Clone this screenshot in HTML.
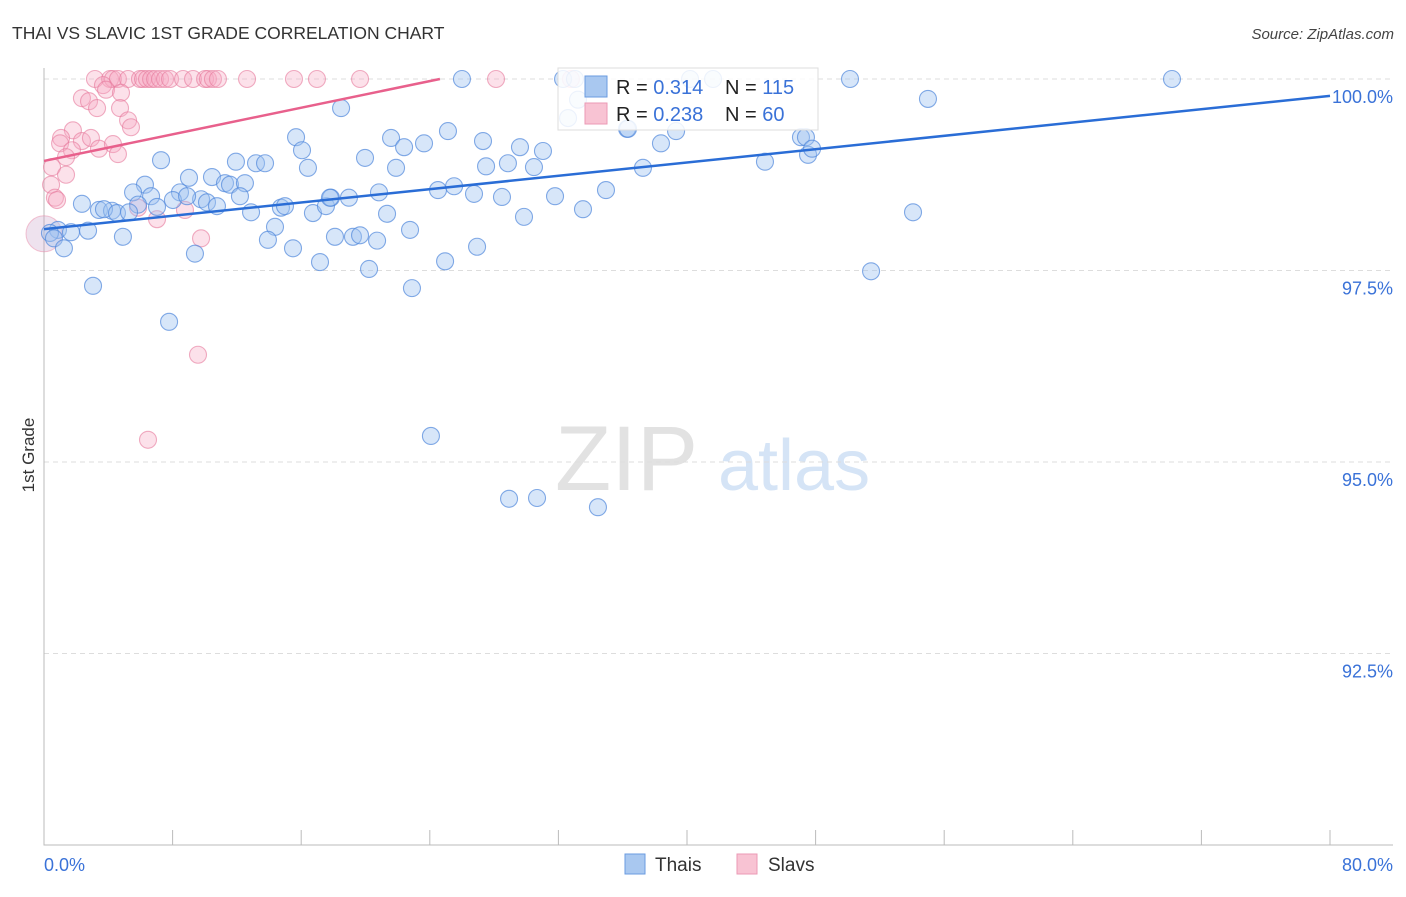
<!DOCTYPE html>
<html><head><meta charset="utf-8"><style>
body{margin:0;background:#fff;font-family:"Liberation Sans",sans-serif}
svg text{font-family:"Liberation Sans",sans-serif}
</style></head><body>
<svg id="chart" width="1406" height="892" viewBox="0 0 1406 892" xmlns="http://www.w3.org/2000/svg">
<text x="12" y="39" font-size="17.5" fill="#333">THAI VS SLAVIC 1ST GRADE CORRELATION CHART</text>
<text x="1394" y="39" font-size="15" fill="#444" text-anchor="end" font-style="italic">Source: ZipAtlas.com</text>
<text transform="translate(34,455) rotate(-90)" font-size="17" fill="#333" text-anchor="middle">1st Grade</text>
<g>
<text x="555" y="490" font-size="92" fill="#e2e2e2" font-family="Liberation Serif,serif">ZIP</text>
<text x="718" y="490" font-size="72" fill="#d5e4f6">atlas</text>
</g>
<g id="grid"></g>
<g id="axes"></g>
<g id="trends"></g>
<g id="points"></g>
<g>
<rect x="558" y="68" width="260" height="62" fill="#fff" fill-opacity="0.85" stroke="#ddd"/>
<rect x="585" y="76" width="22" height="21" fill="#a9c8f0" stroke="#6a9be0"/>
<rect x="585" y="103" width="22" height="21" fill="#f8c3d3" stroke="#eb9ab4"/>
<text x="616" y="94" font-size="20" fill="#222">R = <tspan fill="#3a72d8">0.314</tspan></text>
<text x="725" y="94" font-size="20" fill="#222">N = <tspan fill="#3a72d8">115</tspan></text>
<text x="616" y="121" font-size="20" fill="#222">R = <tspan fill="#3a72d8">0.238</tspan></text>
<text x="725" y="121" font-size="20" fill="#222">N = <tspan fill="#3a72d8">60</tspan></text>
</g>
<g>
<rect x="625" y="854" width="20" height="20" fill="#a9c8f0" stroke="#6a9be0"/>
<text x="655" y="871" font-size="19" fill="#333">Thais</text>
<rect x="737" y="854" width="20" height="20" fill="#f8c3d3" stroke="#eb9ab4"/>
<text x="768" y="871" font-size="19" fill="#333">Slavs</text>
</g>
</svg>
<script>
const yTicks=[100,97.5,95,92.5];
const yTickLabels=["100.0%","97.5%","95.0%","92.5%"];
const xTickLabels=["0.0%","80.0%"];
const thaiX=[26.0,32.29,33.03,40.19,41.62,50.14,70.17,54.99,18.48,33.22,32.6,25.13,36.27,39.32,21.59,15.68,27.31,23.64,22.4,16.05,29.61,31.04,47.09,47.4,7.28,19.97,11.94,13.19,13.75,16.42,21.9,27.5,28.86,30.48,38.38,44.85,47.53,47.78,37.26,9.02,10.45,11.26,11.57,12.5,6.28,5.54,6.66,8.46,8.02,9.77,10.14,12.19,10.76,8.9,5.85,2.36,7.03,3.42,4.23,3.73,4.54,5.29,12.88,14.74,14.99,16.73,17.54,17.85,18.97,20.84,24.51,25.51,26.75,28.49,31.79,34.96,21.34,29.86,33.53,54.06,0.87,1.68,2.74,0.37,0.62,1.24,4.91,14.37,13.93,18.1,19.22,19.66,20.72,22.77,15.49,9.39,17.17,20.22,24.95,26.94,51.45,22.89,3.05,7.78,24.07,28.93,30.67,34.46,36.33,17.79];
const thaiY=[100,100,100,100,100,100,100,99.74,99.62,99.73,99.49,99.32,99.35,99.32,99.23,99.24,99.19,99.16,99.11,99.07,99.11,99.06,99.24,99.24,98.94,98.97,98.92,98.90,98.90,98.84,98.84,98.86,98.90,98.85,99.16,98.92,99.01,99.09,98.84,98.71,98.72,98.64,98.62,98.64,98.62,98.52,98.47,98.52,98.42,98.43,98.39,98.47,98.34,98.47,98.36,98.37,98.33,98.29,98.28,98.30,98.25,98.26,98.26,98.32,98.34,98.25,98.34,98.45,98.45,98.52,98.55,98.60,98.50,98.46,98.47,98.55,98.24,98.20,98.30,98.26,98.03,98.0,98.02,97.99,97.92,97.79,97.94,98.07,97.90,97.94,97.94,97.96,97.89,98.03,97.79,97.72,97.61,97.52,97.62,97.81,97.49,97.27,97.30,96.83,95.34,94.52,94.53,94.41,99.35,98.45];
const slavX=[3.17,4.11,4.29,4.6,5.23,5.97,6.16,6.41,6.66,6.91,7.22,7.53,7.84,8.65,9.27,10.02,10.2,10.51,10.82,12.63,15.55,16.98,19.66,28.12,32.78,3.67,3.86,4.79,2.36,2.8,3.3,4.73,5.23,5.41,1.8,1.06,2.36,2.92,1.0,3.42,1.74,4.29,4.6,1.37,0.5,1.37,0.44,0.68,0.81,5.85,8.77,7.03,9.77,9.58,6.47];
const slavY=[100,100,100,100,100,100,100,100,100,100,100,100,100,100,100,100,100,100,100,100,100,100,100,100,100,99.92,99.86,99.82,99.75,99.71,99.62,99.62,99.46,99.37,99.33,99.23,99.19,99.23,99.16,99.09,99.07,99.15,99.02,98.98,98.85,98.75,98.62,98.45,98.42,98.32,98.29,98.17,97.92,96.4,95.29];
const thaiTrend=[98.04,99.78];
const slavTrend=[98.93,100];
const slavTrendEndX=24.63;

const X0=44,X1=1330,Y100=79,PPY=76.6;
const sx=v=>X0+(v/80)*(X1-X0);
const sy=v=>Y100+(100-v)*PPY;
const NS="http://www.w3.org/2000/svg";
function mk(tag,attrs,parent){const e=document.createElementNS(NS,tag);for(const k in attrs)e.setAttribute(k,attrs[k]);parent.appendChild(e);return e;}
const grid=document.getElementById('grid'),axes=document.getElementById('axes'),trends=document.getElementById('trends'),pts=document.getElementById('points');
yTicks.forEach((t,i)=>{
 const l=mk('line',{x1:44,x2:1393,y1:sy(t),y2:sy(t),stroke:'#ddd','stroke-dasharray':'5,4'},grid);
 
 
 const tx=mk('text',{x:1393,y:sy(t)+24,'font-size':18,fill:'#3a72d8','text-anchor':'end'},grid);
 tx.textContent=yTickLabels[i];
 
 
});
const ax=mk('path',{d:'M44 68V845H1393',stroke:'#bbb',fill:'none'},axes);


for(let i=0;i<=10;i++){
 const t=mk('line',{x1:sx(i*8),x2:sx(i*8),y1:830,y2:845,stroke:'#bbb'},axes);
 
 
}
[[0,'start',44],[1,'end',1393]].forEach(([i,a,x])=>{
 const t=mk('text',{x:x,y:871,'font-size':18,fill:'#3a72d8','text-anchor':a},axes);
 t.textContent=xTickLabels[i];
 
 
});
function dot(x,y,fill,stroke,r,name){
 const c=mk('circle',{cx:sx(x),cy:sy(y),r:r,fill:fill,stroke:stroke,'stroke-width':1.1},pts);
 
 
}
const big=mk('circle',{cx:sx(0),cy:sy(97.98),r:18,fill:'rgba(200,160,200,0.3)',stroke:'rgba(233,138,168,0.5)'},pts);


slavX.forEach((x,i)=>dot(x,slavY[i],'rgba(245,170,195,0.35)','rgba(230,120,155,0.6)',8.5,'slav-point'));
thaiX.forEach((x,i)=>dot(x,thaiY[i],'rgba(160,196,240,0.42)','rgba(80,135,220,0.7)',8.5,'thai-point'));
const tl=mk('line',{x1:sx(0),y1:sy(thaiTrend[0]),x2:sx(80),y2:sy(thaiTrend[1]),stroke:'#2a6dd6','stroke-width':2.5},trends);


const pl=mk('line',{x1:sx(0),y1:sy(slavTrend[0]),x2:sx(slavTrendEndX),y2:sy(slavTrend[1]),stroke:'#e8608c','stroke-width':2.5},trends);


document.getElementById('chart').appendChild(trends);
</script>
</body></html>
